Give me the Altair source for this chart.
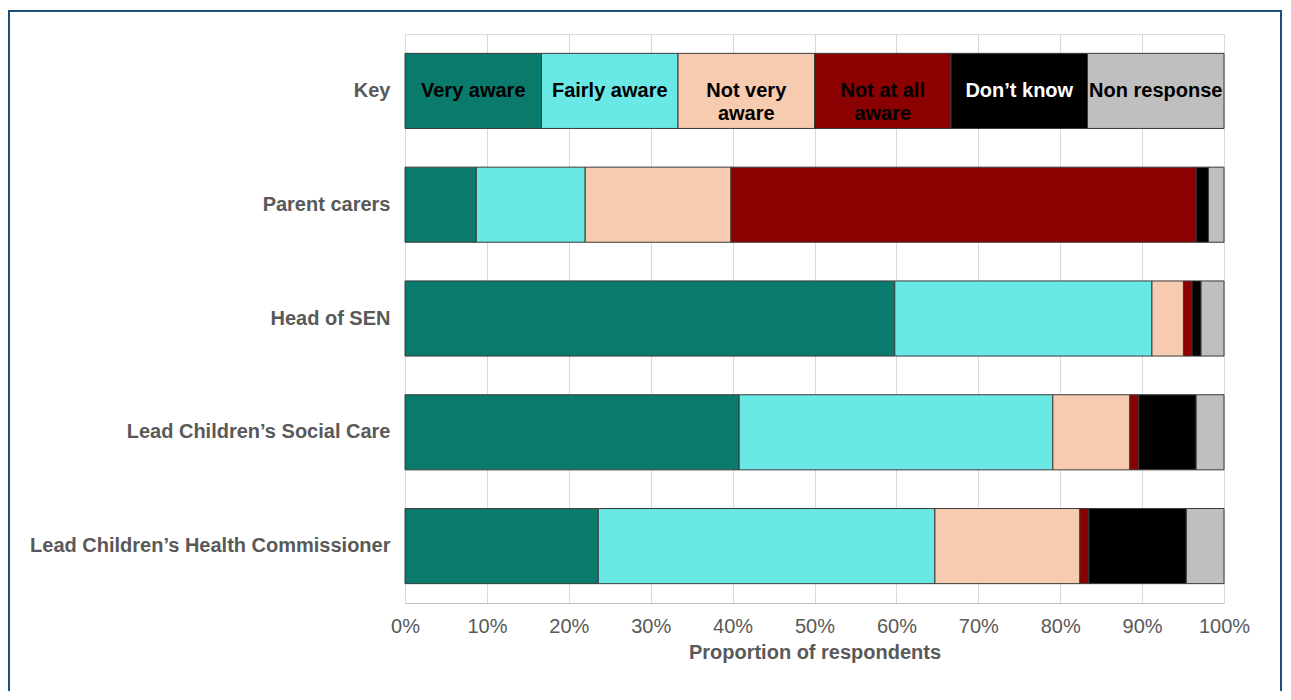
import altair as alt
import pandas as pd

groups = ["Key", "Parent carers", "Head of SEN", "Lead Children’s Social Care",
          "Lead Children’s Health Commissioner"]
categories = ["Very aware", "Fairly aware", "Not very aware", "Not at all aware",
              "Don’t know", "Non response"]
key_labels = ["Very aware", "Fairly aware", "Not very\naware", "Not at all\naware",
              "Don’t know", "Non response"]
colors = ["#0A7A6C", "#6AE8E5", "#F7CBAF", "#8B0000", "#000000", "#BFBFBF"]
text_colors = ["#000000", "#000000", "#000000", "#000000", "#FFFFFF", "#000000"]

key_vals = [100 / 6] * 6
parent_vals = [8.7, 13.3, 17.8, 56.8, 1.5, 1.9]
sen_vals = [59.8, 31.4, 3.85, 1.05, 1.1, 2.8]
social_vals = [40.8, 38.3, 9.4, 1.1, 7.0, 3.4]
health_vals = [23.6, 41.1, 17.7, 1.1, 11.9, 4.6]
x_ticks = [0, 10, 20, 30, 40, 50, 60, 70, 80, 90, 100]

series = [key_vals, parent_vals, sen_vals, social_vals, health_vals]
rows = []
for g, vals in zip(groups, series):
    for i, (c, v) in enumerate(zip(categories, vals)):
        rows.append({"group": g, "cat": c, "order": i, "value": v})
df = pd.DataFrame(rows)

cum = 0
krows = []
for i, (lab, v) in enumerate(zip(key_labels, key_vals)):
    krows.append({"group": "Key", "label": lab.split("\n"), "mid": cum + v / 2,
                  "tc": text_colors[i]})
    cum += v
kdf = pd.DataFrame(krows)

W, H = 819, 569
PL, PT = 397, 26
PR, PB = 58, 88
FONT = "Liberation Sans"

xscale = alt.Scale(domain=[0, 100], nice=False)
yscale = alt.Scale(domain=groups, paddingInner=0.34, paddingOuter=0.17)

bars = alt.Chart(df).mark_bar(stroke="#3A3A3A", strokeWidth=1).encode(
    x=alt.X("value:Q", stack="zero", scale=xscale,
            axis=alt.Axis(values=x_ticks, labelExpr="datum.value + '%'",
                          title="Proportion of respondents",
                          titleFontSize=20, titleFontWeight="bold",
                          titleColor="#595959", titlePadding=6,
                          labelFontSize=20, labelColor="#595959",
                          labelPadding=13, ticks=False,
                          labelFlush=False, labelOverlap=False,
                          domainColor="#BFBFBF", gridColor="#D9D9D9",
                          labelFont=FONT, titleFont=FONT)),
    y=alt.Y("group:N", scale=yscale, sort=groups,
            axis=alt.Axis(title=None, labelFontSize=20, labelFontWeight="bold",
                          labelColor="#595959", labelPadding=15, ticks=False,
                          domain=False, grid=False, labelFont=FONT,
                          labelLimit=500)),
    color=alt.Color("cat:N", scale=alt.Scale(domain=categories, range=colors),
                    legend=None),
    order=alt.Order("order:Q"),
)

texts = alt.Chart(kdf).mark_text(fontSize=20, fontWeight="bold",
                                 font=FONT, lineHeight=23).encode(
    x=alt.X("mid:Q", scale=xscale),
    y=alt.Y("group:N", scale=yscale, sort=groups),
    text="label",
    color=alt.Color("tc:N", scale=None),
)

frame = alt.Chart(pd.DataFrame({"a": [0]})).mark_rect(
    filled=False, stroke="#1B5079", strokeWidth=2).encode(
    x=alt.value(-PL + 1), x2=alt.value(W + PR - 1),
    y=alt.value(-PT + 3), y2=alt.value(H + PB + 10))

chart = alt.layer(frame, bars, texts).properties(
    width=W, height=H,
    autosize=alt.AutoSizeParams(type="none"),
    padding={"left": PL, "top": PT, "right": PR, "bottom": PB},
).configure_view(stroke="#D9D9D9").configure(background="white")

chart.save("out.html", embed_options={"renderer": "svg", "actions": False})
